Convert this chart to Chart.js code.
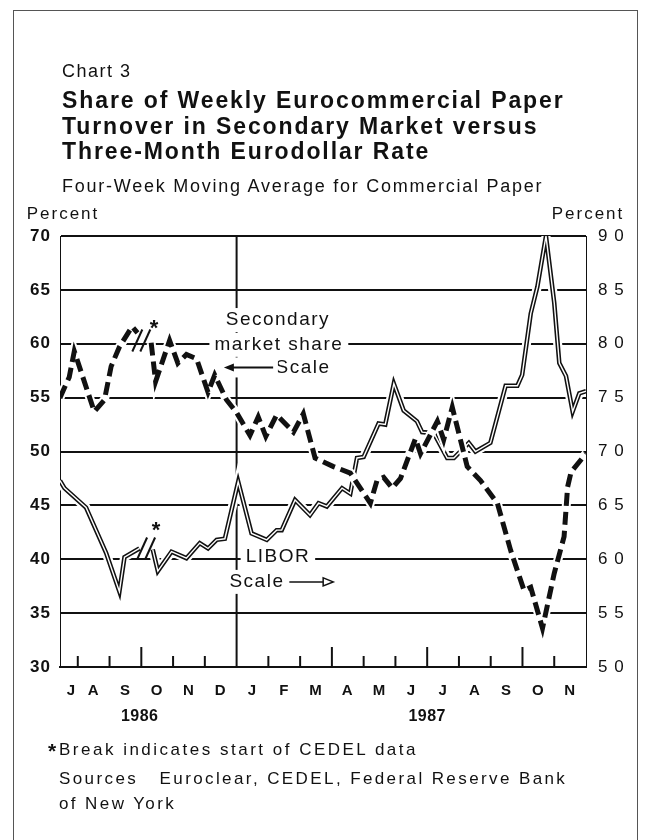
<!DOCTYPE html>
<html>
<head>
<meta charset="utf-8">
<script src="https://cdn.jsdelivr.net/npm/chart.js@4.4.0/dist/chart.umd.min.js"></script>
<style>
body { margin: 0; background: #fff; }
#wrap { position: absolute; left: 0; top: 0; width: 650px; height: 840px; }
#frame { position: absolute; left: 13px; top: 10px; width: 623px; height: 900px; border: 1px solid #555; }
.txt { position: absolute; left: 62px; font-family: "Liberation Sans", Arial, sans-serif; color: #111; line-height: 1; white-space: pre; }
</style>
</head>
<body>
<div id="frame"></div>
<div id="wrap"><canvas id="chart"></canvas></div>
<div class="txt" style="top:62px;font-size:18px;letter-spacing:1.5px">Chart 3</div>
<div class="txt" style="top:88px;font-size:23px;font-weight:bold;letter-spacing:1.9px;line-height:25.5px">Share of Weekly Eurocommercial Paper
Turnover in Secondary Market versus
Three-Month Eurodollar Rate</div>
<div class="txt" style="top:177px;font-size:18px;letter-spacing:1.75px">Four-Week Moving Average for Commercial Paper</div>
<div class="txt" style="top:740px;left:48px;font-size:21px;font-weight:bold">*</div>
<div class="txt" style="top:741px;left:59px;font-size:17px;letter-spacing:2.5px">Break indicates start of CEDEL data</div>
<div class="txt" style="top:766px;left:59px;font-size:17px;letter-spacing:2.4px;line-height:25px">Sources   Euroclear, CEDEL, Federal Reserve Bank
of New York</div>
<script>
const shareMonths = [0.44, 0.73, 0.89, 1.52, 1.84, 2.05, 2.31, 2.71, 2.88, 3.1, 3.31, 3.45, 3.89, 4.15, 4.42, 4.74, 5.10, 5.31, 5.68, 6.0,
  6.42, 6.68, 6.92, 7.26, 7.79, 8.10, 8.47, 9.05, 9.58, 10.21, 10.42, 10.63, 10.90, 11.16, 11.63, 11.79, 12.32, 12.52, 12.79,
  13.26, 13.68, 14.21, 14.63, 15.05, 15.26, 15.63, 16.0, 16.31, 16.42, 16.53, 17.0];
const shareValues = [55.0, 56.9, 59.3, 53.7, 54.8, 57.9, 59.7, 61.6, 61.0, null, 60.1, 56.5, 60.3, 58.2, 59.0, 58.6, 55.5, 57.1, 54.8, 53.6,
  51.5, 53.2, 51.4, 53.4, 51.8, 53.5, 49.4, 48.6, 48.0, 45.2, 47.3, 47.6, 46.6, 47.5, 51.2, 49.8, 52.8, 51.1, 54.1,
  48.6, 47.3, 45.2, 40.8, 37.1, 37.4, 33.6, 38.7, 42.1, 46.7, 48.1, 49.8];

const liborMonths = [0.44, 0.58, 1.26, 1.89, 2.31, 2.47, 2.94, 3.1, 3.36, 3.52, 3.95, 4.42, 4.84, 5.10, 5.37, 5.63, 6.05, 6.47, 6.95,
  7.26, 7.42, 7.84, 8.31, 8.58, 8.84, 9.32, 9.58, 9.79, 10.0, 10.47, 10.68, 10.95, 11.26, 11.68, 11.84, 12.21, 12.63, 12.84,
  13.31, 13.52, 13.99, 14.47, 14.84, 14.99, 15.26, 15.47, 15.74, 16.0, 16.16, 16.37, 16.58, 16.79, 17.0];
const liborValues = [6.73, 6.66, 6.48, 6.06, 5.70, 6.02, 6.10, null, 6.09, 5.89, 6.07, 6.01, 6.15, 6.10, 6.18, 6.19, 6.72, 6.24, 6.18,
  6.27, 6.27, 6.55, 6.41, 6.52, 6.49, 6.66, 6.61, 6.94, 6.95, 7.26, 7.25, 7.63, 7.38, 7.28, 7.18, 7.17, 6.94, 6.94,
  7.08, 7.00, 7.08, 7.61, 7.61, 7.71, 8.28, 8.53, 9.00, 8.38, 7.82, 7.70, 7.37, 7.54, 7.56];

const monthLabels = ['J', 'A', 'S', 'O', 'N', 'D', 'J', 'F', 'M', 'A', 'M', 'J', 'J', 'A', 'S', 'O', 'N'];
const monthLabelPos = [0.8, 1.5, 2.5, 3.5, 4.5, 5.5, 6.5, 7.5, 8.5, 9.5, 10.5, 11.5, 12.5, 13.5, 14.5, 15.5, 16.5];
const yearLabels = ['1986', '1987'];
const yearLabelPos = [2.95, 12.0];

const FONT = '"Liberation Sans", Arial, sans-serif';
const INK = '#111';

function pts(xs, ys) {
    return xs.map(function(x, i) { return {x: x, y: ys[i]}; });
}

function boxText(ctx, text, x, y, size) {
    ctx.font = size + 'px ' + FONT;
    ctx.letterSpacing = '1.5px';
    var w = ctx.measureText(text).width;
    ctx.fillStyle = '#fff';
    ctx.fillRect(x - w / 2 - 5, y - 12, w + 10, 24);
    ctx.fillStyle = INK;
    ctx.textAlign = 'center';
    ctx.textBaseline = 'middle';
    ctx.fillText(text, x, y);
}

const decor = {
    id: 'decor',
    beforeDraw: function(chart) {
        chart.ctx.letterSpacing = '1px';
    },
    beforeDatasetsDraw: function(chart) {
        var ctx = chart.ctx, xs = chart.scales.x, yL = chart.scales.y, yR = chart.scales.y2;
        var a = chart.chartArea;
        ctx.save();
        ctx.strokeStyle = INK;
        ctx.lineWidth = 2;
        // month ticks pointing up from the axis
        for (var m = 1; m <= 16; m++) {
            var px = xs.getPixelForValue(m);
            var len = m === 6 ? a.bottom - a.top : (m % 3 === 0 ? 20 : 11);
            ctx.beginPath();
            ctx.moveTo(px, a.bottom);
            ctx.lineTo(px, a.bottom - len);
            ctx.stroke();
        }
        // labels
        boxText(ctx, 'Secondary', xs.getPixelForValue(7.3), yL.getPixelForValue(62.2), 19);
        boxText(ctx, 'market share', xs.getPixelForValue(7.33), yL.getPixelForValue(59.9), 19);
        var sy = yL.getPixelForValue(57.8);
        boxText(ctx, 'Scale', xs.getPixelForValue(8.09), sy, 19);
        ctx.fillStyle = '#fff';
        ctx.fillRect(xs.getPixelForValue(5.5), sy - 10, xs.getPixelForValue(7.3) - xs.getPixelForValue(5.5), 20);
        var x0 = xs.getPixelForValue(5.6), x1 = xs.getPixelForValue(7.15);
        ctx.beginPath();
        ctx.moveTo(x0 + 8, sy);
        ctx.lineTo(x1, sy);
        ctx.stroke();
        ctx.fillStyle = INK;
        ctx.beginPath();
        ctx.moveTo(x0, sy);
        ctx.lineTo(x0 + 10, sy - 4);
        ctx.lineTo(x0 + 10, sy + 4);
        ctx.closePath();
        ctx.fill();

        boxText(ctx, 'LIBOR', xs.getPixelForValue(7.3), yR.getPixelForValue(6.02), 19);
        var ly = yR.getPixelForValue(5.79);
        boxText(ctx, 'Scale', xs.getPixelForValue(6.64), ly, 19);
        var l0 = xs.getPixelForValue(7.66), l1 = xs.getPixelForValue(9.04);
        ctx.strokeStyle = INK;
        ctx.lineWidth = 1.5;
        ctx.beginPath();
        ctx.moveTo(l0, ly);
        ctx.lineTo(l1 - 10, ly);
        ctx.stroke();
        ctx.beginPath();
        ctx.moveTo(l1, ly);
        ctx.lineTo(l1 - 10, ly - 4);
        ctx.lineTo(l1 - 10, ly + 4);
        ctx.closePath();
        ctx.stroke();
        ctx.restore();
    },
    afterDatasetsDraw: function(chart) {
        var ctx = chart.ctx, xs = chart.scales.x, yL = chart.scales.y, yR = chart.scales.y2;
        ctx.save();
        ctx.strokeStyle = INK;
        ctx.lineWidth = 2;
        function slashes(cx, cy) {
            [-4, 4].forEach(function(d) {
                ctx.beginPath();
                ctx.moveTo(cx + d - 5, cy + 11);
                ctx.lineTo(cx + d + 5, cy - 11);
                ctx.stroke();
            });
        }
        slashes(xs.getPixelForValue(3.0), yL.getPixelForValue(60.3));
        slashes(xs.getPixelForValue(3.15), yR.getPixelForValue(6.1));
        ctx.fillStyle = INK;
        ctx.font = 'bold 22px ' + FONT;
        ctx.textAlign = 'center';
        ctx.textBaseline = 'middle';
        ctx.fillText('*', xs.getPixelForValue(3.42), yL.getPixelForValue(61.4));
        ctx.fillText('*', xs.getPixelForValue(3.48), yR.getPixelForValue(6.26));

        // axis titles and years
        ctx.letterSpacing = '2px';
        ctx.font = '17px ' + FONT;
        ctx.textBaseline = 'alphabetic';
        ctx.fillText('Percent', 63, 219);
        ctx.fillText('Percent', 588, 219);
        ctx.letterSpacing = '0.5px';
        ctx.font = 'bold 16px ' + FONT;
        yearLabels.forEach(function(t, i) {
            ctx.fillText(t, xs.getPixelForValue(yearLabelPos[i]), 721);
        });
        ctx.restore();
    }
};

var line = {pointRadius: 0, tension: 0, spanGaps: false, fill: false};

new Chart(document.getElementById('chart'), {
    type: 'line',
    data: {
        datasets: [
            Object.assign({data: pts(liborMonths, liborValues), yAxisID: 'y2', borderColor: '#fff', borderWidth: 9, order: 5}, line),
            Object.assign({data: pts(liborMonths, liborValues), yAxisID: 'y2', borderColor: INK, borderWidth: 4.5, order: 4}, line),
            Object.assign({data: pts(liborMonths, liborValues), yAxisID: 'y2', borderColor: '#fff', borderWidth: 1.4, order: 3}, line),
            Object.assign({data: pts(shareMonths, shareValues), yAxisID: 'y', borderColor: '#fff', borderWidth: 9, order: 2}, line),
            Object.assign({data: pts(shareMonths, shareValues), yAxisID: 'y', borderColor: INK, borderWidth: 5, borderDash: [13, 6], order: 1}, line)
        ]
    },
    options: {
        responsive: true,
        maintainAspectRatio: false,
        animation: false,
        devicePixelRatio: 1,
        layout: {padding: {top: 236, bottom: 133, left: 0, right: 0}},
        plugins: {legend: {display: false}, tooltip: {enabled: false}},
        scales: {
            x: {
                type: 'linear', min: 0.44, max: 17,
                grid: {display: false, drawTicks: false},
                border: {display: true, color: INK, width: 2},
                afterBuildTicks: function(s) { s.ticks = monthLabelPos.map(function(v) { return {value: v}; }); },
                afterFit: function(s) { s.height = 40; },
                ticks: {
                    autoSkip: false, maxRotation: 0, padding: 15, color: INK,
                    font: {family: FONT, size: 15, weight: 'bold'},
                    callback: function(v, i) { return monthLabels[i]; }
                }
            },
            y: {
                position: 'left', min: 30, max: 70,
                grid: {color: INK, lineWidth: 2, drawTicks: false},
                border: {display: true, color: INK, width: 1},
                afterFit: function(s) { s.width = 60; },
                ticks: {stepSize: 5, padding: 9, color: INK, font: {family: FONT, size: 17, weight: 'bold'}}
            },
            y2: {
                position: 'right', min: 5, max: 9,
                grid: {display: false, drawTicks: false},
                border: {display: true, color: INK, width: 1},
                afterFit: function(s) { s.width = 64; },
                ticks: {
                    stepSize: 0.5, padding: 12, color: INK, font: {family: FONT, size: 17},
                    callback: function(v) { return v.toFixed(1).replace('.', ' '); }
                }
            }
        }
    },
    plugins: [decor]
});
</script>
</body>
</html>
